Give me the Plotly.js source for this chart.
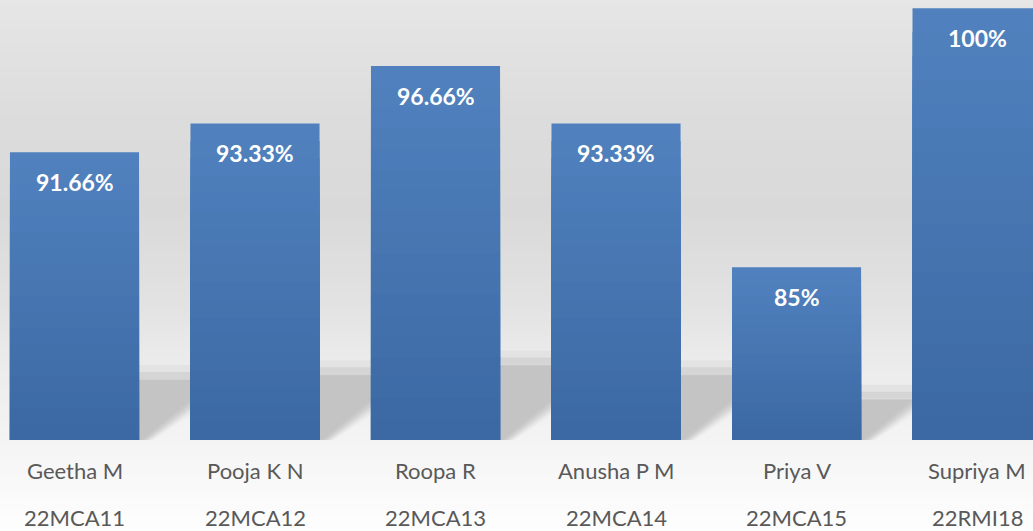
<!DOCTYPE html>
<html>
<head>
<meta charset="utf-8">
<script src="https://cdn.plot.ly/plotly-3.0.1.min.js"></script>
<style>
  html, body { margin: 0; padding: 0; background: #ffffff; }
  #chart { width: 1033px; height: 531px; }
</style>
</head>
<body>
<div id="chart"></div>
<script>
// ---- data ----
const names = ["Geetha M", "Pooja K N", "Roopa R", "Anusha P M", "Priya V", "Supriya M"];
const codes = ["22MCA11", "22MCA12", "22MCA13", "22MCA14", "22MCA15", "22RMI18"];
const scores = [91.66, 93.33, 96.66, 93.33, 85, 100];
const valueLabels = ["91.66%", "93.33%", "96.66%", "93.33%", "85%", "100%"];

// ---- layout constants (style only) ----
const W = 1033, H = 531;
const mL = 0, mR = 0, mT = 0, mB = 91;
const plotW = W - mL - mR, plotH = H - mT - mB;
const yMin = 75;
const yRange = [yMin, 100.48];
const xRange = [-0.4127, 5.310];
const barW = 0.715;
const ux = (xRange[1] - xRange[0]) / plotW;   // data units per px (x)
const uy = (yRange[1] - yRange[0]) / plotH;   // data units per px (y)

function hex(c) { return '#' + c.map(v => Math.round(v).toString(16).padStart(2, '0')).join(''); }
function lerp(a, b, t) { return a.map((v, i) => v + (b[i] - v) * t); }

const xIdx = names.map((_, i) => i);

// ---- bars: overlaid layers to build a vertical gradient ----
const N = 18;
const topCol = [0x50, 0x81, 0xbe];
const botCol = [0x3c, 0x69, 0xa3];
const traces = [];
for (let k = 0; k < N; k++) {
  const f = 1 - k / N;
  traces.push({
    type: 'bar',
    x: xIdx,
    y: scores.map(v => (v - yMin) * f),
    base: yMin,
    width: barW,
    marker: { color: hex(lerp(topCol, botCol, k / (N - 1))), line: { width: 0 } },
    hoverinfo: 'skip',
    showlegend: false
  });
}

// ---- shapes: background gradient ----
const shapes = [];
const bgStops = [
  [0, [0xe6, 0xe6, 0xe6]],
  [120, [0xdc, 0xdc, 0xdc]],
  [210, [0xd9, 0xd9, 0xd9]],
  [300, [0xe2, 0xe2, 0xe2]],
  [360, [0xeb, 0xeb, 0xeb]],
  [440, [0xf4, 0xf4, 0xf4]],
  [531, [0xfe, 0xfe, 0xfe]]
];
function bgColorAt(py) {
  for (let i = 0; i < bgStops.length - 1; i++) {
    const [a, ca] = bgStops[i], [b, cb] = bgStops[i + 1];
    if (py >= a && py <= b) return hex(lerp(ca, cb, (py - a) / (b - a)));
  }
  return hex(bgStops[bgStops.length - 1][1]);
}
const band = 6;
for (let py = 0; py < H; py += band) {
  const y0 = 1 - (py + band) / plotH;
  const y1 = 1 - py / plotH;
  shapes.push({
    type: 'rect', xref: 'paper', yref: 'paper', layer: 'below',
    x0: -0.01, x1: 1.01, y0: y0 - 0.002, y1: y1,
    fillcolor: bgColorAt(py + band / 2), line: { width: 0 }
  });
}

// ---- shapes: floor shadows behind each bar ----
scores.forEach((v, i) => {
  const xr = i + barW / 2;
  const hPx = (v - yMin) / uy;
  const sTop = 0.17 * hPx + 12;
  const X = px => xr + px * ux;
  const Y = px => yMin + px * uy;
  const rect = (p0, p1, col) => shapes.push({
    type: 'path', xref: 'x', yref: 'y', layer: 'below',
    path: `M${X(0)},${Y(p0)} L${X(64)},${Y(p0)} L${X(64)},${Y(p1)} L${X(0)},${Y(p1)} Z`,
    fillcolor: col, line: { width: 0 }
  });
  rect(sTop, sTop + 14, '#e3e3e3');
  rect(sTop, sTop + 7, '#d5d5d5');
  // soft diagonal edge built from stepped layers
  const steps = [[-8, '#eaeaea'], [-4, '#dedede'], [0, '#d2d2d2'], [4, '#c9c9c9'], [8, '#c4c4c4']];
  steps.forEach(([o, col]) => {
    shapes.push({
      type: 'path', xref: 'x', yref: 'y', layer: 'below',
      path: `M${X(0)},${Y(0)} L${X(0)},${Y(sTop - (o > 0 ? 1 : 0))} L${X(64)},${Y(sTop - (o > 0 ? 1 : 0))} L${X(64)},${Y(42 + o)} L${X(8 - o * 0.7)},${Y(0)} Z`,
      fillcolor: col, line: { width: 0 }
    });
  });
});

// ---- annotations: value labels and two-line category labels ----
const annotations = [];
scores.forEach((v, i) => {
  annotations.push({
    x: i, y: v, xref: 'x', yref: 'y', yshift: -30,
    text: valueLabels[i], showarrow: false,
    xanchor: 'center', yanchor: 'middle',
    font: { family: 'Lato, "Open Sans", sans-serif', size: 23, color: '#ffffff', weight: 'bold' }
  });
  annotations.push({
    x: i, y: 0, xref: 'x', yref: 'paper', yshift: -30,
    text: names[i], showarrow: false,
    xanchor: 'center', yanchor: 'middle',
    font: { family: 'Lato, "Open Sans", sans-serif', size: 22, color: '#595959' }
  });
  annotations.push({
    x: i, y: 0, xref: 'x', yref: 'paper', yshift: -77,
    text: codes[i], showarrow: false,
    xanchor: 'center', yanchor: 'middle',
    font: { family: 'Lato, "Open Sans", sans-serif', size: 22, color: '#595959' }
  });
});

const layout = {
  width: W, height: H,
  margin: { l: mL, r: mR, t: mT, b: mB, pad: 0 },
  paper_bgcolor: '#ffffff',
  plot_bgcolor: 'rgba(0,0,0,0)',
  barmode: 'overlay',
  showlegend: false,
  xaxis: {
    type: 'linear', range: xRange, showgrid: false, zeroline: false,
    showticklabels: false, ticks: '', showline: false, fixedrange: true
  },
  yaxis: {
    range: yRange, showgrid: false, zeroline: false,
    showticklabels: false, ticks: '', showline: false, fixedrange: true
  },
  shapes: shapes,
  annotations: annotations
};

Plotly.newPlot('chart', traces, layout, { displayModeBar: false, staticPlot: true });
</script>
</body>
</html>
